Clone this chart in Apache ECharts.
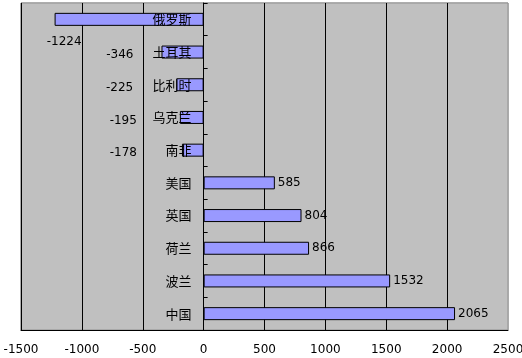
<!DOCTYPE html>
<html><head><meta charset="utf-8">
<script src="https://cdn.jsdelivr.net/npm/echarts@6/dist/echarts.min.js"></script>
<style>html,body{margin:0;padding:0;background:#fff}#c{width:522px;height:358px}</style>
</head><body><div id="c"></div>
<script>
const categories = ['俄罗斯','土耳其','比利时','乌克兰','南非','美国','英国','荷兰','波兰','中国'];
const values = [-1224,-346,-225,-195,-178,585,804,866,1532,2065];
const xTicks = {min:-1500, max:2500, interval:500};

// label placement style for negative values (Excel-like placement)
const negLabelOffsets = [[30,23],[-25,3],[-40,3],[-40,3],[-42,3]];

const chart = echarts.init(document.getElementById('c'));
const numFont = 'DejaVu Sans';
const data = values.map((v,i)=>{
  const item = {value:v};
  if (v < 0) {
    item.label = {position:'left', offset: negLabelOffsets[i] || [0,0]};
  }
  return item;
});
chart.setOption({
  animation:false,
  grid:{left:21, right:14, top:3, bottom:28, outerBoundsMode:'none', show:true, backgroundColor:'#C0C0C0', borderColor:'#909090', borderWidth:1},
  xAxis:{type:'value', min:xTicks.min, max:xTicks.max, interval:xTicks.interval, z:2,
    axisLine:{show:true, onZero:false, lineStyle:{color:'#000', width:1}},
    axisTick:{show:false},
    splitLine:{show:true, showMaxLine:false, lineStyle:{color:'#000', width:1}},
    axisLabel:{color:'#000', fontFamily:numFont, fontSize:12, margin:14, formatter:v=>String(v)}
  },
  yAxis:{type:'category', data:categories, inverse:true, z:10, position:'left', offset:0,
    axisLine:{show:true, onZero:false, lineStyle:{color:'#000', width:1}},
    axisTick:{show:true, inside:true, length:4, lineStyle:{color:'#000'}},
    axisLabel:{color:'#000', fontFamily:'Noto Sans CJK SC', fontSize:13, margin:12}
  },
  series:[
    {type:'line', data:[], z:0, silent:true,
      markArea:{silent:true, z:0, itemStyle:{color:'#C0C0C0', borderColor:'#909090', borderWidth:1},
        data:[[{xAxis:xTicks.min},{xAxis:xTicks.max}]]}},
    {type:'bar', data:data, barWidth:13, z:3,
    itemStyle:{color:'#9999FF', borderColor:'#000', borderWidth:1},
    label:{show:true, position:'right', distance:3, color:'#000', fontFamily:numFont, fontSize:12}
  }]
});
// move the category axis onto the zero line of the value axis
const zeroX = chart.convertToPixel({xAxisIndex:0}, 0);
const minX = chart.convertToPixel({xAxisIndex:0}, xTicks.min);
chart.setOption({yAxis:{offset: -(zeroX - minX)}});
</script></body></html>
